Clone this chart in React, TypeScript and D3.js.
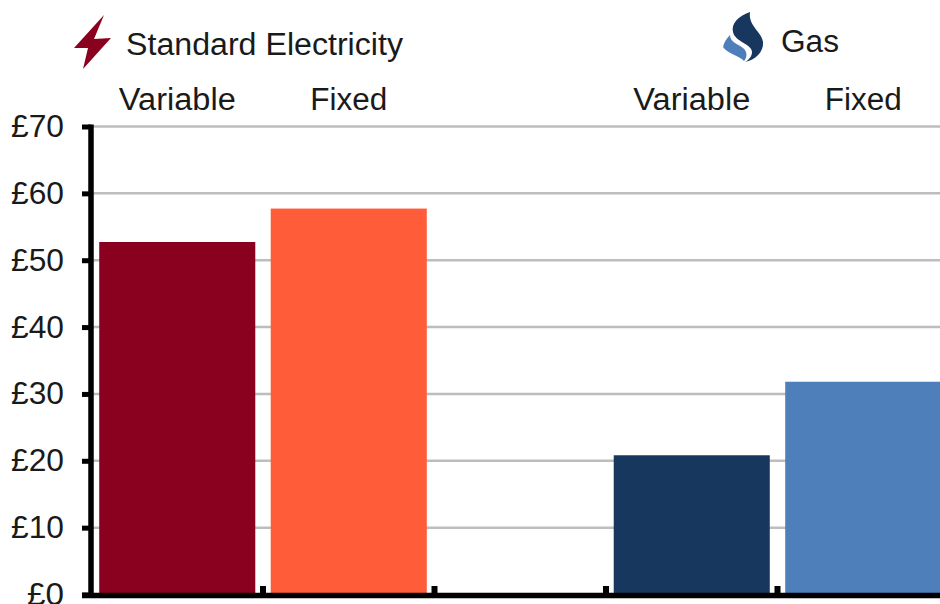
import React from "react";
import * as d3 from "d3";

const categories = ["Variable", "Fixed", "", "Variable ", "Fixed "];
const values = [52.8, 57.8, null, 20.9, 31.9];
const colors = ["#8a001f", "#ff5c3a", "none", "#18375f", "#4e7fbb"];
const yTicks = [0, 10, 20, 30, 40, 50, 60, 70];

const W = 940, H = 604;
const x = d3.scaleBand<string>().domain(categories).range([91.5, 949]).paddingInner(0.09).paddingOuter(0.045);
const y = d3.scaleLinear().domain([0, 70]).range([595, 127]);
const step = x.step();
const x0 = 91.5;
const font = "'Liberation Sans', Arial, sans-serif";
const GRID = "#bdbdbd";

export default function App() {
  const bolt = d3.line()([[104, 15], [74, 48], [88, 48], [83, 69], [111, 38], [94, 39]]) + "Z";
  return (
    <svg width={W} height={H} style={{ position: "absolute", left: 0, top: 0, background: "#fff" }} fontFamily={font}>
      {yTicks.filter(t => t > 0).map(t => (
        <line key={t} x1={90} x2={W} y1={y(t) - 0.5} y2={y(t) - 0.5} stroke={GRID} strokeWidth={2.5} />
      ))}
      {categories.map((c, i) => values[i] == null ? null : (
        <rect key={c} x={x(c)} y={y(values[i] as number)} width={x.bandwidth()} height={y(0) - y(values[i] as number)} fill={colors[i]} />
      ))}
      <line x1={91} x2={91} y1={124.5} y2={598} stroke="#000" strokeWidth={5.5} />
      <line x1={82} x2={W} y1={595.5} y2={595.5} stroke="#000" strokeWidth={5.5} />
      {yTicks.map(t => (
        <g key={t}>
          <line x1={82} x2={91} y1={y(t)} y2={y(t)} stroke="#000" strokeWidth={5} />
          <text x={64} y={y(t) + 10} fontSize={31} textAnchor="end" fill="#1a1a1a" textLength={t === 0 ? 37 : 53} lengthAdjust="spacingAndGlyphs">{`£${t}`}</text>
        </g>
      ))}
      {d3.range(1, 5).map(k => (
        <line key={k} x1={x0 + step * k} x2={x0 + step * k} y1={586} y2={595} stroke="#000" strokeWidth={6} />
      ))}
      {categories.map(c => c === "" ? null : (
        <text key={c} x={(x(c) as number) + x.bandwidth() / 2} y={110} fontSize={31} textAnchor="middle" fill="#1a1a1a" textLength={c.trim() === "Variable" ? 117 : 77} lengthAdjust="spacingAndGlyphs">{c.trim()}</text>
      ))}
      <path d={bolt} fill="#8a001f" />
      <text x={126} y={55} fontSize={31} fill="#1a1a1a" textLength={277} lengthAdjust="spacingAndGlyphs">Standard Electricity</text>
      <path d="M750 12 C738 16 731 24 733 32 C735 42 752 44 752 52 C752 56 749 60 745 62 C755 60 764 52 763 42 C762 32 748 26 750 12Z" fill="#18375f" />
      <path d="M723 47 C724 42 727 38 730 35 C730 42 738 44 743 48 C748 52 747 58 744 61 C740 56 728 54 723 47Z" fill="#4e7fbb" />
      <text x={781} y={52} fontSize={31} fill="#1a1a1a" textLength={58} lengthAdjust="spacingAndGlyphs">Gas</text>
    </svg>
  );
}
